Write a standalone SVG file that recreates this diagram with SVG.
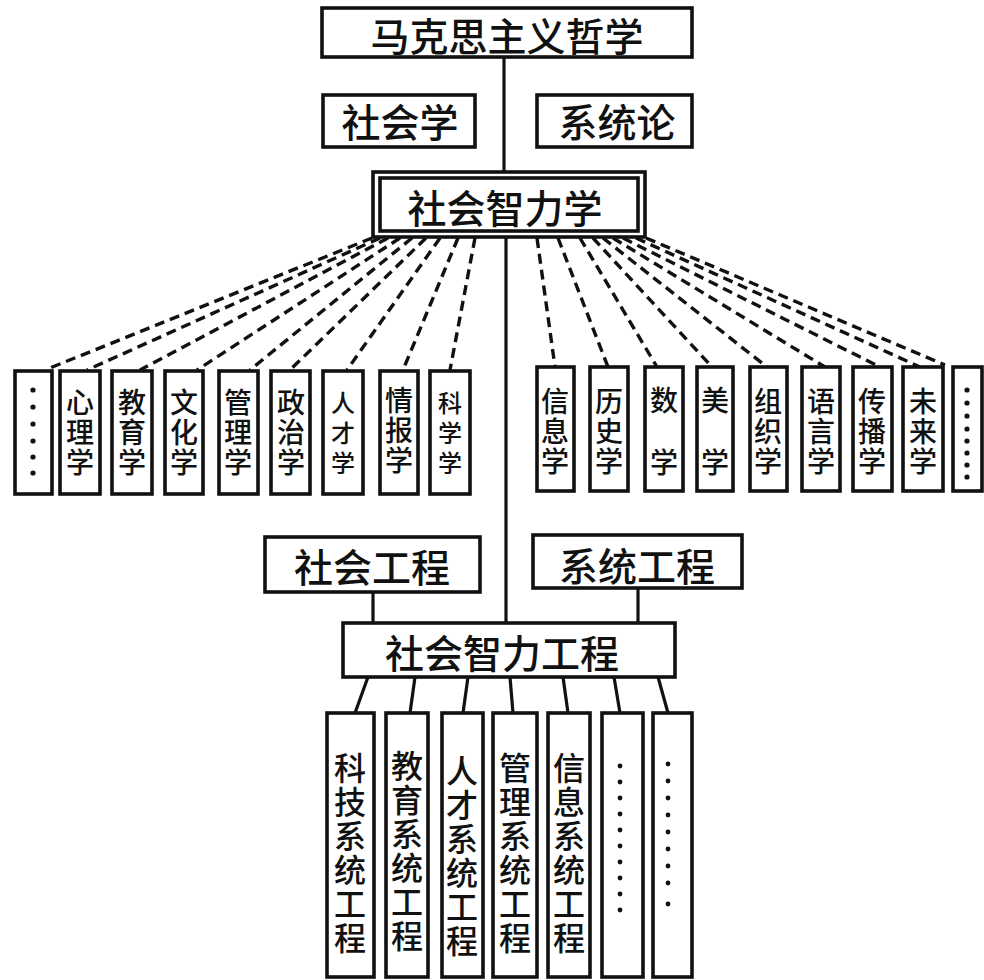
<svg xmlns="http://www.w3.org/2000/svg" width="984" height="980" viewBox="0 0 984 980">
<style>
.box{fill:#fff;stroke:#111;stroke-width:3.6}
.ln{stroke:#111;stroke-width:3.2;fill:none}
.dash{stroke:#111;stroke-width:3.4;fill:none;stroke-dasharray:10 6}
text{font-family:"Noto Sans CJK SC","Noto Sans CJK TC",sans-serif;font-weight:500;fill:#111;text-anchor:middle;dominant-baseline:central}
.v{writing-mode:vertical-rl}
.t40{font-size:39px}
.t28{font-size:28px;letter-spacing:2px}
.t24{font-size:24px;letter-spacing:6px}
.t32{font-size:32px;letter-spacing:2px}
.gap{font-size:28px;letter-spacing:34px}
.dot{fill:#111}
</style>
<rect width="984" height="980" fill="#fff"/>
<g id="connectors">
<line class="ln" x1="504" y1="57" x2="504" y2="172"/>
<line class="ln" x1="506" y1="237" x2="506" y2="623"/>
<line class="ln" x1="373" y1="592" x2="373" y2="623"/>
<line class="ln" x1="638" y1="588" x2="638" y2="623"/>
<line class="dash" x1="372" y1="238" x2="50" y2="368"/>
<line class="dash" x1="380" y1="238" x2="87" y2="370"/>
<line class="dash" x1="388" y1="238" x2="140" y2="370"/>
<line class="dash" x1="400" y1="238" x2="197" y2="370"/>
<line class="dash" x1="412" y1="238" x2="250" y2="370"/>
<line class="dash" x1="426" y1="238" x2="290" y2="370"/>
<line class="dash" x1="440" y1="238" x2="347" y2="370"/>
<line class="dash" x1="458" y1="238" x2="403" y2="370"/>
<line class="dash" x1="475" y1="238" x2="450" y2="370"/>
<line class="dash" x1="537" y1="238" x2="555" y2="367"/>
<line class="dash" x1="558" y1="238" x2="608" y2="367"/>
<line class="dash" x1="580" y1="238" x2="657" y2="367"/>
<line class="dash" x1="593" y1="238" x2="712" y2="367"/>
<line class="dash" x1="603" y1="238" x2="767" y2="367"/>
<line class="dash" x1="613" y1="238" x2="825" y2="367"/>
<line class="dash" x1="623" y1="238" x2="880" y2="367"/>
<line class="dash" x1="636" y1="238" x2="920" y2="367"/>
<line class="dash" x1="646" y1="238" x2="945" y2="365"/>
<line class="ln" x1="368" y1="677" x2="355" y2="713"/>
<line class="ln" x1="415" y1="677" x2="410" y2="713"/>
<line class="ln" x1="468" y1="677" x2="463" y2="713"/>
<line class="ln" x1="510" y1="677" x2="513" y2="713"/>
<line class="ln" x1="563" y1="677" x2="568" y2="713"/>
<line class="ln" x1="614" y1="677" x2="620" y2="713"/>
<line class="ln" x1="658" y1="677" x2="668" y2="713"/>
</g>
<g id="marx"><rect class="box" x="322" y="8" width="370" height="49"/><text class="t40" x="507" y="34">马克思主义哲学</text></g>
<g id="shehuixue"><rect class="box" x="323" y="95" width="152" height="52"/><text class="t40" x="400" y="120">社会学</text></g>
<g id="xitonglun"><rect class="box" x="537" y="95" width="155" height="52"/><text class="t40" x="617" y="120">系统论</text></g>
<g id="shzlx"><rect class="box" x="373" y="172" width="272" height="65"/><rect class="box" x="380" y="178" width="258" height="53"/><text class="t40" x="505" y="206">社会智力学</text></g>

<g id="l-dots"><rect class="box" x="15" y="371" width="37" height="123"/>
<circle class="dot" cx="33" cy="390" r="2.6"/><circle class="dot" cx="33" cy="407" r="2.6"/><circle class="dot" cx="33" cy="424" r="2.6"/><circle class="dot" cx="33" cy="441" r="2.6"/><circle class="dot" cx="33" cy="457" r="2.6"/><circle class="dot" cx="33" cy="473" r="2.6"/></g>
<g id="xinli"><rect class="box" x="60" y="371" width="40" height="123"/><text class="v t28" x="80" y="433">心理学</text></g>
<g id="jiaoyu"><rect class="box" x="112" y="371" width="40" height="123"/><text class="v t28" x="132" y="433">教育学</text></g>
<g id="wenhua"><rect class="box" x="165" y="371" width="38" height="123"/><text class="v t28" x="184" y="433">文化学</text></g>
<g id="guanli"><rect class="box" x="219" y="371" width="39" height="123"/><text class="v t28" x="238" y="433">管理学</text></g>
<g id="zhengzhi"><rect class="box" x="271" y="371" width="39" height="123"/><text class="v t28" x="291" y="433">政治学</text></g>
<g id="rencai"><rect class="box" x="323" y="371" width="40" height="123"/><text class="v t24" x="343" y="436">人才学</text></g>
<g id="qingbao"><rect class="box" x="380" y="371" width="38" height="123"/><text class="v t28" x="399" y="431">情报学</text></g>
<g id="kexue"><rect class="box" x="430" y="371" width="40" height="123"/><text class="v t24" x="450" y="436">科学学</text></g>

<g id="xinxi"><rect class="box" x="537" y="367" width="37" height="124"/><text class="v t28" x="555" y="432">信息学</text></g>
<g id="lishi"><rect class="box" x="590" y="367" width="38" height="124"/><text class="v t28" x="609" y="432">历史学</text></g>
<g id="shu"><rect class="box" x="645" y="367" width="38" height="124"/><text class="v gap" x="664" y="448">数学</text></g>
<g id="mei"><rect class="box" x="697" y="367" width="36" height="124"/><text class="v gap" x="715" y="448">美学</text></g>
<g id="zuzhi"><rect class="box" x="750" y="367" width="37" height="124"/><text class="v t28" x="768" y="432">组织学</text></g>
<g id="yuyan"><rect class="box" x="802" y="367" width="38" height="124"/><text class="v t28" x="821" y="432">语言学</text></g>
<g id="chuanbo"><rect class="box" x="853" y="367" width="39" height="124"/><text class="v t28" x="872" y="432">传播学</text></g>
<g id="weilai"><rect class="box" x="903" y="367" width="40" height="124"/><text class="v t28" x="923" y="432">未来学</text></g>
<g id="r-dots"><rect class="box" x="953" y="367" width="29" height="124"/>
<circle class="dot" cx="967" cy="390" r="2.6"/><circle class="dot" cx="967" cy="403" r="2.6"/><circle class="dot" cx="967" cy="416" r="2.6"/><circle class="dot" cx="967" cy="429" r="2.6"/><circle class="dot" cx="967" cy="441" r="2.6"/><circle class="dot" cx="967" cy="453" r="2.6"/><circle class="dot" cx="967" cy="465" r="2.6"/><circle class="dot" cx="967" cy="477" r="2.6"/></g>

<g id="shgc"><rect class="box" x="265" y="537" width="215" height="55"/><text class="t40" x="372" y="565">社会工程</text></g>
<g id="xtgc"><rect class="box" x="533" y="535" width="209" height="53"/><text class="t40" x="637" y="564">系统工程</text></g>
<g id="shzlgc"><rect class="box" x="343" y="623" width="332" height="54"/><text class="t40" x="502" y="651">社会智力工程</text></g>

<g id="kj"><rect class="box" x="327" y="713" width="47" height="264"/><text class="v t32" x="350" y="854">科技系统工程</text></g>
<g id="jy"><rect class="box" x="386" y="713" width="42" height="264"/><text class="v t32" x="407" y="852">教育系统工程</text></g>
<g id="rc"><rect class="box" x="442" y="713" width="41" height="264"/><text class="v t32" x="462" y="857">人才系统工程</text></g>
<g id="gl"><rect class="box" x="493" y="713" width="44" height="264"/><text class="v t32" x="515" y="854">管理系统工程</text></g>
<g id="xx"><rect class="box" x="548" y="713" width="42" height="264"/><text class="v t32" x="569" y="854">信息系统工程</text></g>
<g id="d1"><rect class="box" x="602" y="713" width="41" height="264"/>
<circle class="dot" cx="620" cy="766" r="2.4"/><circle class="dot" cx="620" cy="782" r="2.4"/><circle class="dot" cx="620" cy="798" r="2.4"/><circle class="dot" cx="620" cy="814" r="2.4"/><circle class="dot" cx="620" cy="830" r="2.4"/><circle class="dot" cx="620" cy="846" r="2.4"/><circle class="dot" cx="620" cy="862" r="2.4"/><circle class="dot" cx="620" cy="878" r="2.4"/><circle class="dot" cx="620" cy="894" r="2.4"/><circle class="dot" cx="620" cy="910" r="2.4"/></g>
<g id="d2"><rect class="box" x="653" y="713" width="39" height="264"/>
<circle class="dot" cx="668" cy="764" r="2.4"/><circle class="dot" cx="668" cy="781" r="2.4"/><circle class="dot" cx="668" cy="798" r="2.4"/><circle class="dot" cx="668" cy="815" r="2.4"/><circle class="dot" cx="668" cy="832" r="2.4"/><circle class="dot" cx="668" cy="849" r="2.4"/><circle class="dot" cx="668" cy="866" r="2.4"/><circle class="dot" cx="668" cy="883" r="2.4"/><circle class="dot" cx="668" cy="904" r="2.4"/></g>
</svg>
